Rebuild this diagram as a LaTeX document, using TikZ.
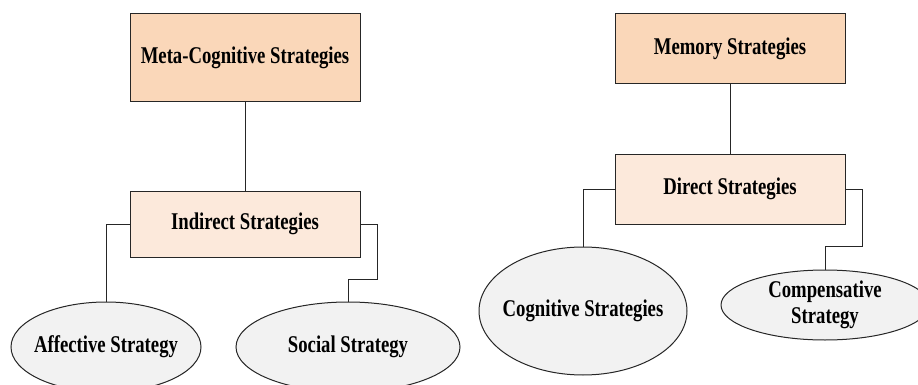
\documentclass[tikz,border=0pt]{standalone}
\usepackage{fontspec}
\setmainfont{Liberation Serif}[FakeStretch=0.78]
\usepackage{tikz}
\usetikzlibrary{shapes.geometric}

\definecolor{peach}{RGB}{250,215,185}
\definecolor{lightpeach}{RGB}{252,233,219}
\definecolor{ovalgray}{RGB}{242,242,242}

\tikzset{
  every node/.style={font=\fontsize{24}{26}\selectfont\bfseries, draw=black!85, line width=1pt, align=center},
  topbox/.style={rectangle, fill=peach, minimum width=230pt, inner sep=0pt},
  midbox/.style={rectangle, fill=lightpeach, minimum width=230pt, inner sep=0pt},
  leaf/.style={ellipse, fill=ovalgray, inner xsep=-10pt, inner ysep=0pt}
}

\begin{document}
\begin{tikzpicture}[x=1pt, y=-1pt, line width=1pt, draw=black!85]
\useasboundingbox (0,0) rectangle (918,385);

% indirect side
\node[topbox, minimum height=88pt] (meta) at (245,58) {Meta-Cognitive Strategies};
\node[midbox, minimum height=66pt] (indirect) at (245,224) {Indirect Strategies};
\node[leaf, minimum width=190pt, minimum height=90pt] (affective) at (106,347) {Affective Strategy};
\node[leaf, minimum width=224pt, minimum height=90pt] (social) at (348,347) {Social Strategy};

% direct side
\node[topbox, minimum height=70pt] (memory) at (730,49) {Memory Strategies};
\node[midbox, minimum height=70pt] (direct) at (730,189) {Direct Strategies};
\node[leaf, minimum width=208pt, minimum height=128pt] (cognitive) at (583,311) {Cognitive Strategies};
\node[leaf, minimum width=208pt, minimum height=70pt] (compensative) at (825,305) {Compensative\\Strategy};

\draw (meta) -- (indirect);
\draw (indirect.west) -| (affective.north);
\draw (indirect.east) -- ++(17,0) -- ++(0,55) -| (social.north);

\draw (memory) -- (direct);
\draw (direct.west) -| (cognitive.north);
\draw (direct.east) -- ++(17,0) -- ++(0,57) -| (compensative.north);
\end{tikzpicture}
\end{document}
